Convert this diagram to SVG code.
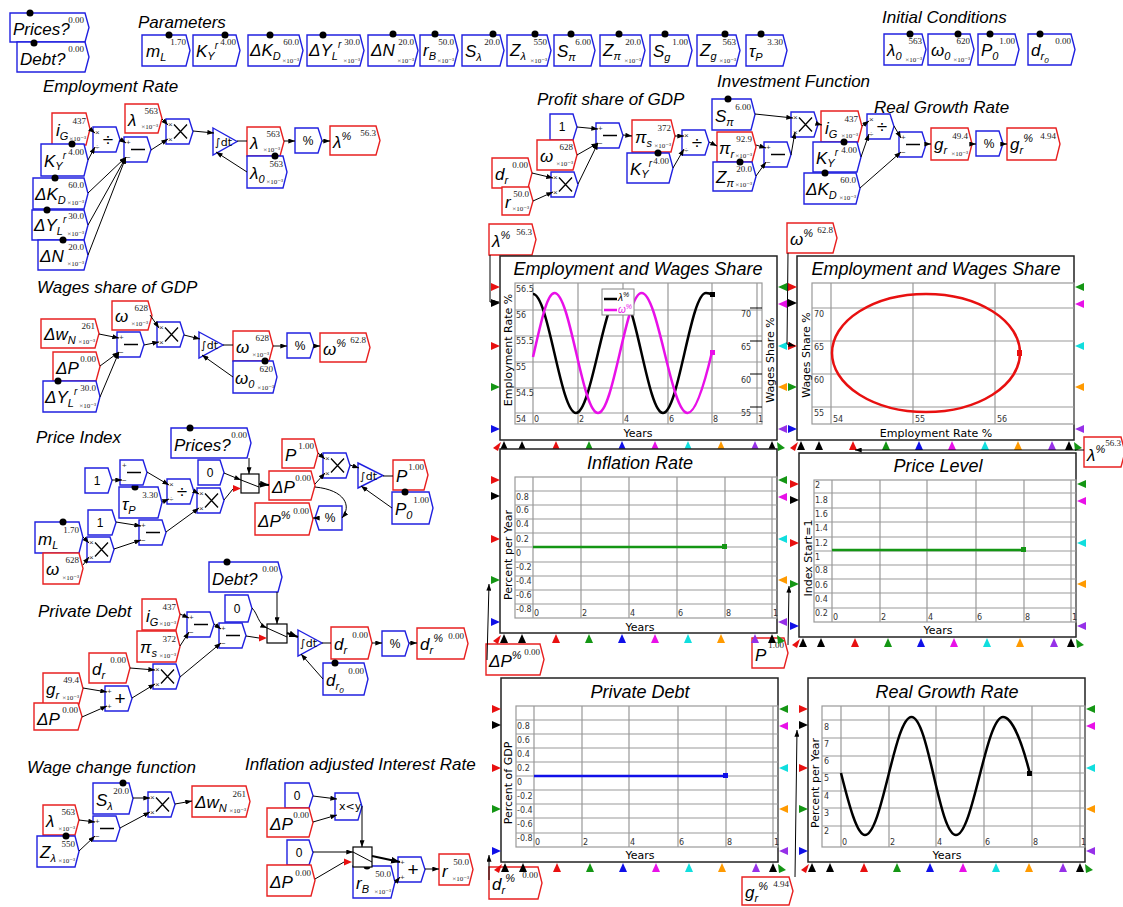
<svg xmlns="http://www.w3.org/2000/svg" width="1123" height="907" viewBox="0 0 1123 907">
<style>
.b{fill:#fff;stroke:#2020e0;stroke-width:1.4}
.r{fill:#fff;stroke:#e82020;stroke-width:1.4}
.nm{font-family:"Liberation Sans",Arial,sans-serif;font-style:italic;font-size:17px;fill:#000}
.sb{font-size:11px}
.sp{font-size:11px}
.sr{font-size:10px}
.vl{font-family:"Liberation Serif",serif;font-size:9px;fill:#222;text-anchor:end}
.ex{font-family:"Liberation Serif","DejaVu Serif",serif;font-size:7px;fill:#222;text-anchor:end}
.hd{font-family:"Liberation Sans",Arial,sans-serif;font-style:italic;font-size:17px}
.op{font-family:"Liberation Sans",Arial,sans-serif;font-size:19px;text-anchor:middle}
.pl{font-family:"Liberation Sans",Arial,sans-serif;font-size:8px;fill:#333}
.cn{font-family:"Liberation Sans",Arial,sans-serif;font-size:12px;text-anchor:middle}
.w{stroke:#000;stroke-width:1;fill:none;marker-end:url(#a)}
.wt{stroke:#000;stroke-width:2;fill:none;marker-end:url(#a2)}
.ln{stroke:#000;stroke-width:1;fill:none}
.sw{fill:#fff;stroke:#000;stroke-width:1.2}
.gr{stroke:#999;stroke-width:1.2;fill:none}
.fr{fill:#fff;stroke:#222;stroke-width:1.5}
.pt{font-family:"Liberation Sans",Arial,sans-serif;font-style:italic;font-size:18px;text-anchor:middle}
.ax{font-family:"DejaVu Sans",sans-serif;font-size:11px;text-anchor:middle}
.tk{font-family:"DejaVu Sans",sans-serif;font-size:8px;fill:#333}
.it{font-family:"DejaVu Sans",sans-serif;font-size:11px}
</style>
<defs>
<marker id="a" viewBox="0 0 8 6" refX="8" refY="3" markerWidth="7" markerHeight="5" orient="auto" markerUnits="userSpaceOnUse"><path d="M0,0L8,3L0,6z"/></marker>
<marker id="a2" viewBox="0 0 8 6" refX="8" refY="3" markerWidth="9" markerHeight="7" orient="auto" markerUnits="userSpaceOnUse"><path d="M0,0L8,3L0,6z"/></marker>
<polygon id="box" class="b" points="0,0 23,0 27,12.5 23,25 0,25"/>
<g id="sub"><use href="#box"/><path d="M7,12.5H21" stroke="#000" stroke-width="1.5"/><text class="pl" x="2" y="8">+</text><text class="pl" x="2" y="23">−</text></g>
<g id="mul"><use href="#box"/><path d="M8,5.5L21,19.5M21,5.5L8,19.5" stroke="#000" stroke-width="1.3"/><text class="pl" x="2" y="8">×</text><text class="pl" x="2" y="23">×</text></g>
<g id="div"><use href="#box"/><text class="op" x="15" y="19">÷</text><text class="pl" x="2" y="8">×</text><text class="pl" x="2" y="23">÷</text></g>
<g id="add"><use href="#box"/><text class="op" x="15" y="19">+</text><text class="pl" x="2" y="8">+</text><text class="pl" x="2" y="23">+</text></g>
<g id="pct"><use href="#box"/><text class="cn" x="13" y="17">%</text></g>
<g id="ports">
<polygon fill="#e81010" points="-9,27 0,31 -9,35"/>
<polygon fill="#000" points="-9,43 0,47 -9,51"/>
<polygon fill="#e81010" points="-9,86 0,90 -9,94"/>
<polygon fill="#149614" points="-9,127 0,131 -9,135"/>
<polygon fill="#1010e8" points="-9,169 0,173 -9,177"/>
<polygon fill="#149614" points="287,27 278,31 287,35"/>
<polygon fill="#e810e8" points="287,44 278,48 287,52"/>
<polygon fill="#10dede" points="287,86 278,90 287,94"/>
<polygon fill="#ff9a00" points="287,127 278,131 287,135"/>
<polygon fill="#9630e8" points="287,169 278,173 287,177"/>
<polygon fill="#e81010" points="-7,192 1,186 -2,195"/>
<polygon fill="#000" points="0,194 4,185 8,194"/>
<polygon fill="#000" points="18,194 22,185 26,194"/>
<polygon fill="#e81010" points="52,194 56,185 60,194"/>
<polygon fill="#149614" points="85,194 89,185 93,194"/>
<polygon fill="#1010e8" points="118,194 122,185 126,194"/>
<polygon fill="#e810e8" points="151,194 155,185 159,194"/>
<polygon fill="#10dede" points="184,194 188,185 192,194"/>
<polygon fill="#ff9a00" points="217,194 221,185 225,194"/>
<polygon fill="#9630e8" points="251,194 255,185 259,194"/>
<polygon fill="#000" points="268,194 272,185 276,194"/>
<polygon fill="#149614" points="277,186 285,192 278,195"/>
</g>
</defs>
<rect width="1123" height="907" fill="#fff"/>

<g id="headers">
<text class="hd" x="138" y="28">Parameters</text>
<text class="hd" x="882" y="23">Initial Conditions</text>
<text class="hd" x="43" y="92">Employment Rate</text>
<text class="hd" x="537" y="105">Profit share of GDP</text>
<text class="hd" x="717" y="87">Investment Function</text>
<text class="hd" x="874" y="113">Real Growth Rate</text>
<text class="hd" x="37" y="293">Wages share of GDP</text>
<text class="hd" x="36" y="443">Price Index</text>
<text class="hd" x="38" y="617">Private Debt</text>
<text class="hd" x="27" y="773">Wage change function</text>
<text class="hd" x="245" y="770">Inflation adjusted Interest Rate</text>
</g>

<g id="Prices_1"><polygon class="b" points="10,13 85,13 89,27.5 85,42 10,42"/><text class="nm" x="13" y="35">Prices?</text><text class="vl" x="84" y="23">0.00</text><circle cx="30" cy="13" r="3.5"/></g>
<g id="Debt_1"><polygon class="b" points="17,42 85,42 89,57 85,72 17,72"/><text class="nm" x="20" y="65">Debt?</text><text class="vl" x="84" y="52">0.00</text><circle cx="34" cy="43" r="3.5"/></g>

<g id="mL_p"><polygon class="b" points="142,35 186,35 190,50.5 186,66 142,66"/><text class="nm" x="146" y="57">m<tspan class="sb" dy="4">L</tspan></text><text class="vl" x="186" y="45">1.70</text><circle cx="169" cy="35" r="3.5"/></g>
<g id="KY_p"><polygon class="b" points="193,35 236,35 240,50.5 236,66 193,66"/><text class="nm" x="196" y="57">K<tspan class="sb" dy="3">Y</tspan><tspan class="sr" dy="-11">r</tspan></text><text class="vl" x="236" y="45">4.00</text><circle cx="225" cy="35" r="3.5"/></g>
<g id="dKD_p"><polygon class="b" points="248,35 299,35 303,50.5 299,66 248,66"/><text class="nm" x="250" y="56">ΔK<tspan class="sb" dy="4">D</tspan></text><text class="vl" x="299" y="45">60.0</text><text class="ex" x="299" y="63">×10⁻³</text><circle cx="270" cy="35" r="3.5"/></g>
<g id="dYL_p"><polygon class="b" points="307,35 360,35 364,50.5 360,66 307,66"/><text class="nm" x="309" y="56">ΔY<tspan class="sb" dy="4">L</tspan><tspan class="sr" dy="-12">r</tspan></text><text class="vl" x="360" y="45">30.0</text><text class="ex" x="360" y="63">×10⁻³</text><circle cx="323" cy="35" r="3.5"/></g>
<g id="dN_p"><polygon class="b" points="368,35 414,35 418,50.5 414,66 368,66"/><text class="nm" x="371" y="56">ΔN</text><text class="vl" x="414" y="45">20.0</text><text class="ex" x="414" y="63">×10⁻³</text><circle cx="393" cy="34" r="3.5"/></g>
<g id="rB_p"><polygon class="b" points="420,35 454,35 458,50.5 454,66 420,66"/><text class="nm" x="423" y="56">r<tspan class="sb" dy="4">B</tspan></text><text class="vl" x="454" y="45">50.0</text><text class="ex" x="454" y="63">×10⁻³</text><circle cx="435" cy="34" r="3.5"/></g>
<g id="Slam_p"><polygon class="b" points="462,35 500,35 504,50.5 500,66 462,66"/><text class="nm" x="465" y="57">S<tspan class="sb" dy="4">λ</tspan></text><text class="vl" x="500" y="45">20.0</text><circle cx="493" cy="34" r="3.5"/></g>
<g id="Zlam_p"><polygon class="b" points="507,35 547,35 551,50.5 547,66 507,66"/><text class="nm" x="510" y="56">Z<tspan class="sb" dy="4">λ</tspan></text><text class="vl" x="547" y="45">550</text><text class="ex" x="547" y="63">×10⁻³</text><circle cx="535" cy="34" r="3.5"/></g>
<g id="Spi_p"><polygon class="b" points="554,35 591,35 595,50.5 591,66 554,66"/><text class="nm" x="557" y="57">S<tspan class="sb" dy="4">π</tspan></text><text class="vl" x="591" y="45">6.00</text><circle cx="571" cy="34" r="3.5"/></g>
<g id="Zpi_p"><polygon class="b" points="600,35 641,35 645,50.5 641,66 600,66"/><text class="nm" x="603" y="56">Z<tspan class="sb" dy="4">π</tspan></text><text class="vl" x="641" y="45">20.0</text><text class="ex" x="641" y="63">×10⁻³</text><circle cx="619" cy="34" r="3.5"/></g>
<g id="Sg_p"><polygon class="b" points="650,35 688,35 692,50.5 688,66 650,66"/><text class="nm" x="653" y="57">S<tspan class="sb" dy="4">g</tspan></text><text class="vl" x="688" y="45">1.00</text><circle cx="665" cy="34" r="3.5"/></g>
<g id="Zg_p"><polygon class="b" points="697,35 736,35 740,50.5 736,66 697,66"/><text class="nm" x="700" y="56">Z<tspan class="sb" dy="4">g</tspan></text><text class="vl" x="736" y="45">563</text><text class="ex" x="736" y="63">×10⁻³</text><circle cx="725" cy="34" r="3.5"/></g>
<g id="tauP_p"><polygon class="b" points="746,35 783,35 787,50.5 783,66 746,66"/><text class="nm" x="749" y="57">τ<tspan class="sb" dy="4">P</tspan></text><text class="vl" x="783" y="45">3.30</text><circle cx="761" cy="34" r="3.5"/></g>

<g id="lam0_p"><polygon class="b" points="884,34 922,34 926,49.5 922,65 884,65"/><text class="nm" x="887" y="56">λ<tspan class="sb" dy="4">0</tspan></text><text class="vl" x="922" y="44">563</text><text class="ex" x="922" y="62">×10⁻³</text><circle cx="910" cy="34" r="3.5"/></g>
<g id="om0_p"><polygon class="b" points="928,34 970,34 974,49.5 970,65 928,65"/><text class="nm" x="931" y="56">ω<tspan class="sb" dy="4">0</tspan></text><text class="vl" x="970" y="44">620</text><text class="ex" x="970" y="62">×10⁻³</text><circle cx="958" cy="34" r="3.5"/></g>
<g id="P0_p"><polygon class="b" points="978,34 1015,34 1019,49.5 1015,65 978,65"/><text class="nm" x="981" y="56">P<tspan class="sb" dy="4">0</tspan></text><text class="vl" x="1015" y="44">1.00</text><circle cx="990" cy="34" r="3.5"/></g>
<g id="dr0_p"><polygon class="b" points="1028,34 1071,34 1075,49.5 1071,65 1028,65"/><text class="nm" x="1031" y="56">d<tspan class="sb" dy="4">r</tspan><tspan font-size="8px" dy="3">0</tspan></text><text class="vl" x="1071" y="44">0.00</text><circle cx="1040" cy="34" r="3.5"/></g>

<g id="iG_1"><polygon class="r" points="52,113 86,113 90,129 86,145 52,145"/><text class="nm" x="56" y="136">i<tspan class="sb" dy="4">G</tspan></text><text class="vl" x="86" y="124">437</text><text class="ex" x="86" y="141">×10⁻³</text></g>
<g id="KY_1"><polygon class="b" points="41,144 84,144 88,160 84,176 41,176"/><text class="nm" x="44" y="167">K<tspan class="sb" dy="3">Y</tspan><tspan class="sr" dy="-11">r</tspan></text><text class="vl" x="84" y="155">4.00</text><circle cx="72" cy="144" r="3.5"/></g>
<g id="dKD_1"><polygon class="b" points="33,178 84,178 88,193.5 84,209 33,209"/><text class="nm" x="35" y="200">ΔK<tspan class="sb" dy="4">D</tspan></text><text class="vl" x="84" y="188">60.0</text><text class="ex" x="84" y="205">×10⁻³</text><circle cx="55" cy="178" r="3.5"/></g>
<g id="dYL_1"><polygon class="b" points="32,210 84,210 88,225 84,240 32,240"/><text class="nm" x="34" y="231">ΔY<tspan class="sb" dy="4">L</tspan><tspan class="sr" dy="-12">r</tspan></text><text class="vl" x="84" y="219">30.0</text><text class="ex" x="84" y="236">×10⁻³</text><circle cx="47" cy="210" r="3.5"/></g>
<g id="dN_1"><polygon class="b" points="38,240 84,240 88,255 84,270 38,270"/><text class="nm" x="40" y="262">ΔN</text><text class="vl" x="84" y="250">20.0</text><text class="ex" x="84" y="266">×10⁻³</text><circle cx="63" cy="240" r="3.5"/></g>
<g id="lam_1"><polygon class="r" points="125,104 158,104 162,118.5 158,133 125,133"/><text class="nm" x="128" y="126">λ</text><text class="vl" x="158" y="114">563</text><text class="ex" x="158" y="129">×10⁻³</text></g>
<g id="lam_2"><polygon class="r" points="247,127 280,127 284,141.5 280,156 247,156"/><text class="nm" x="250" y="149">λ</text><text class="vl" x="280" y="137">563</text><text class="ex" x="280" y="152">×10⁻³</text></g>
<g id="lam0_1"><polygon class="b" points="247,156 283,156 287,172 283,188 247,188"/><text class="nm" x="250" y="179">λ<tspan class="sb" dy="4">0</tspan></text><text class="vl" x="283" y="167">563</text><text class="ex" x="283" y="184">×10⁻³</text><circle cx="275" cy="156" r="3.5"/></g>
<g id="lamP_1"><polygon class="r" points="330,126 376,126 380,140.5 376,155 330,155"/><text class="nm" x="333" y="148">λ<tspan class="sp" dy="-8">%</tspan></text><text class="vl" x="376" y="136">56.3</text></g>
<g id="div1"><use href="#div" x="93" y="127"/></g>
<g id="sub1"><use href="#sub" x="124" y="137"/></g>
<g id="mul1"><use href="#mul" x="166" y="119"/></g>
<g id="int1"><polygon class="b" points="213,128 237,141.5 213,155"/><text class="it" x="215" y="146">∫dt</text></g>
<g id="pct1"><use href="#pct" x="295" y="128"/></g>

<g id="one_1"><polygon class="b" points="550,114 573,114 577,127 573,140 550,140"/><text class="cn" x="562" y="131">1</text></g>
<g id="om_1"><polygon class="r" points="537,140 573,140 577,155 573,170 537,170"/><text class="nm" x="540" y="162">ω</text><text class="vl" x="573" y="150">628</text><text class="ex" x="573" y="166">×10⁻³</text></g>
<g id="dr_1"><polygon class="r" points="492,158 528,158 532,173 528,188 492,188"/><text class="nm" x="495" y="180">d<tspan class="sb" dy="4">r</tspan></text><text class="vl" x="528" y="168">0.00</text></g>
<g id="r_1"><polygon class="r" points="502,187 529,187 533,201 529,215 502,215"/><text class="nm" x="505" y="208">r</text><text class="vl" x="529" y="197">50.0</text><text class="ex" x="529" y="211">×10⁻³</text></g>
<g id="pis_1"><polygon class="r" points="632,120 671,120 675,136 671,152 632,152"/><text class="nm" x="635" y="143">π<tspan class="sb" dy="4">s</tspan></text><text class="vl" x="671" y="131">372</text><text class="ex" x="671" y="148">×10⁻³</text></g>
<g id="KY_2"><polygon class="b" points="627,153 669,153 673,168 669,183 627,183"/><text class="nm" x="630" y="175">K<tspan class="sb" dy="3">Y</tspan><tspan class="sr" dy="-11">r</tspan></text><text class="vl" x="669" y="164">4.00</text><circle cx="658" cy="153" r="3.5"/></g>
<g id="Spi_1"><polygon class="b" points="712,99 751,99 755,114.5 751,130 712,130"/><text class="nm" x="715" y="122">S<tspan class="sb" dy="4">π</tspan></text><text class="vl" x="751" y="110">6.00</text><circle cx="728" cy="99" r="3.5"/></g>
<g id="pir_1"><polygon class="r" points="717,132 752,132 756,147 752,162 717,162"/><text class="nm" x="719" y="154">π<tspan class="sb" dy="4">r</tspan></text><text class="vl" x="752" y="142">92.9</text><text class="ex" x="752" y="158">×10⁻³</text></g>
<g id="Zpi_1"><polygon class="b" points="713,162 752,162 756,176.5 752,191 713,191"/><text class="nm" x="716" y="183">Z<tspan class="sb" dy="4">π</tspan></text><text class="vl" x="752" y="172">20.0</text><text class="ex" x="752" y="187">×10⁻³</text><circle cx="740" cy="162" r="3.5"/></g>
<g id="iG_2"><polygon class="r" points="821,111 858,111 862,126.5 858,142 821,142"/><text class="nm" x="825" y="134">i<tspan class="sb" dy="4">G</tspan></text><text class="vl" x="858" y="122">437</text><text class="ex" x="858" y="138">×10⁻³</text></g>
<g id="KY_3"><polygon class="b" points="813,142 857,142 861,157 857,172 813,172"/><text class="nm" x="816" y="164">K<tspan class="sb" dy="3">Y</tspan><tspan class="sr" dy="-11">r</tspan></text><text class="vl" x="857" y="153">4.00</text><circle cx="844" cy="142" r="3.5"/></g>
<g id="dKD_2"><polygon class="b" points="804,173 856,173 860,188.5 856,204 804,204"/><text class="nm" x="806" y="195">ΔK<tspan class="sb" dy="4">D</tspan></text><text class="vl" x="856" y="183">60.0</text><text class="ex" x="856" y="200">×10⁻³</text><circle cx="825" cy="173" r="3.5"/></g>
<g id="gr_1"><polygon class="r" points="931,128 968,128 972,144 968,160 931,160"/><text class="nm" x="934" y="150">g<tspan class="sb" dy="4">r</tspan></text><text class="vl" x="968" y="139">49.4</text><text class="ex" x="968" y="156">×10⁻³</text></g>
<g id="grP_1"><polygon class="r" points="1007,128 1056,128 1060,144 1056,160 1007,160"/><text class="nm" x="1010" y="150">g<tspan class="sb" dy="4">r</tspan><tspan class="sp" dy="-12">%</tspan></text><text class="vl" x="1056" y="139">4.94</text></g>
<g id="sub2"><use href="#sub" x="596" y="123"/></g>
<g id="mul2"><use href="#mul" x="551" y="172"/></g>
<g id="div2"><use href="#div" x="682" y="130"/></g>
<g id="sub3"><use href="#sub" x="764" y="142"/></g>
<g id="mul3"><use href="#mul" x="791" y="112"/></g>
<g id="div3"><use href="#div" x="867" y="114"/></g>
<g id="sub4"><use href="#sub" x="899" y="132"/></g>
<g id="pct2"><use href="#pct" x="976" y="131"/></g>

<g id="om_2"><polygon class="r" points="112,301 148,301 152,315.5 148,330 112,330"/><text class="nm" x="115" y="322">ω</text><text class="vl" x="148" y="311">628</text><text class="ex" x="148" y="326">×10⁻³</text></g>
<g id="dwN_1"><polygon class="r" points="41,319 95,319 99,333.5 95,348 41,348"/><text class="nm" x="44" y="340">Δw<tspan class="sb" dy="4">N</tspan></text><text class="vl" x="95" y="329">261</text><text class="ex" x="95" y="344">×10⁻³</text></g>
<g id="dP_1"><polygon class="r" points="53,352 96,352 100,366.5 96,381 53,381"/><text class="nm" x="56" y="374">ΔP</text><text class="vl" x="96" y="362">0.00</text></g>
<g id="dYL_2"><polygon class="b" points="43,381 96,381 100,396.5 96,412 43,412"/><text class="nm" x="45" y="403">ΔY<tspan class="sb" dy="4">L</tspan><tspan class="sr" dy="-12">r</tspan></text><text class="vl" x="96" y="391">30.0</text><text class="ex" x="96" y="408">×10⁻³</text><circle cx="58" cy="381" r="3.5"/></g>
<g id="om_3"><polygon class="r" points="233,331 269,331 273,346 269,361 233,361"/><text class="nm" x="236" y="353">ω</text><text class="vl" x="269" y="341">628</text><text class="ex" x="269" y="357">×10⁻³</text></g>
<g id="om0_1"><polygon class="b" points="233,361 273,361 277,377 273,393 233,393"/><text class="nm" x="235" y="384">ω<tspan class="sb" dy="4">0</tspan></text><text class="vl" x="273" y="372">620</text><text class="ex" x="274" y="390">×10⁻³</text><circle cx="265" cy="361" r="3.5"/></g>
<g id="omP_1"><polygon class="r" points="320,333 366,333 370,347.5 366,362 320,362"/><text class="nm" x="323" y="355">ω<tspan class="sp" dy="-8">%</tspan></text><text class="vl" x="366" y="343">62.8</text></g>
<g id="sub5"><use href="#sub" x="117" y="332"/></g>
<g id="mul4"><use href="#mul" x="157" y="322"/></g>
<g id="int2"><polygon class="b" points="199,332 223,345 199,358"/><text class="it" x="201" y="349">∫dt</text></g>
<g id="pct3"><use href="#pct" x="287" y="333"/></g>

<g id="Prices_2"><polygon class="b" points="171,428 247,428 251,443 247,458 171,458"/><text class="nm" x="174" y="451">Prices?</text><text class="vl" x="247" y="438">0.00</text><circle cx="190" cy="428" r="3.5"/></g>
<g id="one_2"><polygon class="b" points="85,468 108,468 112,480.5 108,493 85,493"/><text class="cn" x="97" y="485">1</text></g>
<g id="tauP_1"><polygon class="b" points="119,487 158,487 162,502.5 158,518 119,518"/><text class="nm" x="122" y="510">τ<tspan class="sb" dy="4">P</tspan></text><text class="vl" x="158" y="498">3.30</text><circle cx="135" cy="487" r="3.5"/></g>
<g id="zero_1"><polygon class="b" points="198,460 220,460 224,472.5 220,485 198,485"/><text class="cn" x="210" y="477">0</text></g>
<g id="one_3"><polygon class="b" points="88,510 112,510 116,522.5 112,535 88,535"/><text class="cn" x="100" y="527">1</text></g>
<g id="mL_1"><polygon class="b" points="35,522 79,522 83,537.5 79,553 35,553"/><text class="nm" x="38" y="545">m<tspan class="sb" dy="4">L</tspan></text><text class="vl" x="79" y="533">1.70</text><circle cx="63" cy="522" r="3.5"/></g>
<g id="om_4"><polygon class="r" points="43,553 79,553 83,568.5 79,584 43,584"/><text class="nm" x="46" y="575">ω</text><text class="vl" x="79" y="563">628</text><text class="ex" x="79" y="580">×10⁻³</text></g>
<g id="P_1"><polygon class="r" points="282,439 314,439 318,453.5 314,468 282,468"/><text class="nm" x="285" y="461">P</text><text class="vl" x="314" y="449">1.00</text></g>
<g id="dP_2"><polygon class="r" points="269,471 311,471 315,485.5 311,500 269,500"/><text class="nm" x="272" y="493">ΔP</text><text class="vl" x="311" y="481">0.00</text></g>
<g id="P_2"><polygon class="r" points="393,460 424,460 428,475 424,490 393,490"/><text class="nm" x="396" y="482">P</text><text class="vl" x="424" y="470">1.00</text></g>
<g id="P0_1"><polygon class="b" points="392,492 429,492 433,508 429,524 392,524"/><text class="nm" x="395" y="515">P<tspan class="sb" dy="4">0</tspan></text><text class="vl" x="429" y="503">1.00</text><circle cx="405" cy="492" r="3.5"/></g>
<g id="dPP_1"><polygon class="r" points="255,503 309,503 313,519 309,535 255,535"/><text class="nm" x="258" y="527">ΔP<tspan class="sp" dy="-8">%</tspan></text><text class="vl" x="309" y="514">0.00</text></g>
<g id="sub6"><use href="#sub" x="120" y="460"/></g>
<g id="div4"><use href="#div" x="167" y="479"/></g>
<g id="mul5"><use href="#mul" x="197" y="488"/></g>
<g id="mul6"><use href="#mul" x="87" y="537"/></g>
<g id="sub7"><use href="#sub" x="139" y="520"/></g>
<g id="mul7"><use href="#mul" x="323" y="453"/></g>
<g id="int3"><polygon class="b" points="358,463 383,475.5 358,488"/><text class="it" x="360" y="480">∫dt</text></g>
<g id="pct4"><polygon class="b" points="319,506 342,506 342,530 319,530 315,518"/><text class="cn" x="330" y="522">%</text></g>
<g id="switch1"><rect class="sw" x="241" y="474" width="18" height="19"/><path class="ln" d="M241,480L259,487"/><polygon fill="#e81010" points="233,485 241,488.5 233,492"/></g>

<g id="Debt_2"><polygon class="b" points="209,562 278,562 282,577 278,592 209,592"/><text class="nm" x="212" y="585">Debt?</text><text class="vl" x="278" y="572">0.00</text><circle cx="227" cy="562" r="3.5"/></g>
<g id="iG_3"><polygon class="r" points="142,599 176,599 180,614.5 176,630 142,630"/><text class="nm" x="146" y="622">i<tspan class="sb" dy="4">G</tspan></text><text class="vl" x="176" y="610">437</text><text class="ex" x="176" y="626">×10⁻³</text></g>
<g id="pis_2"><polygon class="r" points="137,631 176,631 180,646.5 176,662 137,662"/><text class="nm" x="140" y="653">π<tspan class="sb" dy="4">s</tspan></text><text class="vl" x="176" y="642">372</text><text class="ex" x="176" y="658">×10⁻³</text></g>
<g id="zero_2"><polygon class="b" points="225,595 248,595 252,608.5 248,622 225,622"/><text class="cn" x="237" y="613">0</text></g>
<g id="dr_2"><polygon class="r" points="331,627 368,627 372,643 368,659 331,659"/><text class="nm" x="334" y="650">d<tspan class="sb" dy="4">r</tspan></text><text class="vl" x="368" y="638">0.00</text></g>
<g id="drP_1"><polygon class="r" points="417,628 464,628 468,643.5 464,659 417,659"/><text class="nm" x="420" y="650">d<tspan class="sb" dy="4">r</tspan><tspan class="sp" dy="-12">%</tspan></text><text class="vl" x="464" y="639">0.00</text></g>
<g id="dr0_1"><polygon class="b" points="323,663 364,663 368,679 364,695 323,695"/><text class="nm" x="326" y="686">d<tspan class="sb" dy="4">r</tspan><tspan font-size="8px" dy="3">0</tspan></text><text class="vl" x="364" y="674">0.00</text><circle cx="335" cy="663" r="3.5"/></g>
<g id="dr_3"><polygon class="r" points="89,653 126,653 130,668 126,683 89,683"/><text class="nm" x="92" y="675">d<tspan class="sb" dy="4">r</tspan></text><text class="vl" x="126" y="663">0.00</text></g>
<g id="gr_2"><polygon class="r" points="43,673 79,673 83,688.5 79,704 43,704"/><text class="nm" x="46" y="695">g<tspan class="sb" dy="4">r</tspan></text><text class="vl" x="79" y="683">49.4</text><text class="ex" x="79" y="700">×10⁻³</text></g>
<g id="dP_3"><polygon class="r" points="34,703 78,703 82,716.5 78,730 34,730"/><text class="nm" x="37" y="725">ΔP</text><text class="vl" x="78" y="713">0.00</text></g>
<g id="sub8"><use href="#sub" x="187" y="612"/></g>
<g id="sub9"><use href="#sub" x="219" y="623"/></g>
<g id="mul8"><use href="#mul" x="153" y="664"/></g>
<g id="add1"><use href="#add" x="105" y="686"/></g>
<g id="int4"><polygon class="b" points="298,630 322,643 298,656"/><text class="it" x="300" y="647">∫dt</text></g>
<g id="pct5"><use href="#pct" x="382" y="631"/></g>
<g id="switch2"><rect class="sw" x="267" y="624" width="20" height="19"/><path class="ln" d="M267,628L287,637"/><polygon fill="#e81010" points="259,634.5 267,638 259,641.5"/></g>

<g id="Slam_1"><polygon class="b" points="93,783 129,783 133,798.5 129,814 93,814"/><text class="nm" x="96" y="806">S<tspan class="sb" dy="4">λ</tspan></text><text class="vl" x="129" y="794">20.0</text><circle cx="123" cy="783" r="3.5"/></g>
<g id="lam_3"><polygon class="r" points="43,805 75,805 79,820 75,835 43,835"/><text class="nm" x="46" y="827">λ</text><text class="vl" x="75" y="815">563</text><text class="ex" x="75" y="831">×10⁻³</text></g>
<g id="Zlam_1"><polygon class="b" points="37,836 75,836 79,851.5 75,867 37,867"/><text class="nm" x="40" y="858">Z<tspan class="sb" dy="4">λ</tspan></text><text class="vl" x="75" y="847">550</text><text class="ex" x="75" y="863">×10⁻³</text><circle cx="66" cy="836" r="3.5"/></g>
<g id="dwN_2"><polygon class="r" points="192,786 246,786 250,801.5 246,817 192,817"/><text class="nm" x="195" y="808">Δw<tspan class="sb" dy="4">N</tspan></text><text class="vl" x="246" y="797">261</text><text class="ex" x="246" y="813">×10⁻³</text></g>
<g id="sub10"><use href="#sub" x="93" y="816"/></g>
<g id="mul9"><use href="#mul" x="148" y="792"/></g>

<g id="zero_3"><polygon class="b" points="285,783 309,783 313,795.5 309,808 285,808"/><text class="cn" x="297" y="800">0</text></g>
<g id="dP_4"><polygon class="r" points="267,808 309,808 313,822.5 309,837 267,837"/><text class="nm" x="270" y="830">ΔP</text><text class="vl" x="309" y="818">0.00</text></g>
<g id="zero_4"><polygon class="b" points="287,840 309,840 313,852.5 309,865 287,865"/><text class="cn" x="299" y="857">0</text></g>
<g id="dP_5"><polygon class="r" points="267,865 311,865 315,880.5 311,896 267,896"/><text class="nm" x="270" y="888">ΔP</text><text class="vl" x="311" y="876">0.00</text></g>
<g id="rB_1"><polygon class="b" points="353,866 391,866 395,882 391,898 353,898"/><text class="nm" x="356" y="889">r<tspan class="sb" dy="4">B</tspan></text><text class="vl" x="391" y="877">50.0</text><text class="ex" x="391" y="894">×10⁻³</text><circle cx="367" cy="866" r="3.5"/></g>
<g id="r_2"><polygon class="r" points="439,854 469,854 473,869.5 469,885 439,885"/><text class="nm" x="442" y="877">r</text><text class="vl" x="469" y="865">50.0</text><text class="ex" x="469" y="881">×10⁻³</text></g>
<g id="xlt"><polygon class="b" points="335,793 358,793 362,806.5 358,820 335,820"/><text class="it" x="339" y="810">x&lt;y</text></g>
<g id="switch3"><rect class="sw" x="353" y="847" width="19" height="20"/><path class="ln" d="M353,852L372,862"/><polygon fill="#e81010" points="344,858.5 352,862 344,865.5"/></g>
<g id="add2"><use href="#add" x="398" y="857"/></g>

<g id="lamP_2"><polygon class="r" points="489,224 532,224 536,239.5 532,255 489,255"/><text class="nm" x="492" y="247">λ<tspan class="sp" dy="-8">%</tspan></text><text class="vl" x="532" y="235">56.3</text></g>
<g id="omP_2"><polygon class="r" points="787,223 833,223 837,238 833,253 787,253"/><text class="nm" x="790" y="245">ω<tspan class="sp" dy="-8">%</tspan></text><text class="vl" x="833" y="233">62.8</text></g>
<g id="lamP_3"><polygon class="r" points="1084,437 1121,437 1125,452 1121,467 1084,467"/><text class="nm" x="1087" y="461">λ<tspan class="sp" dy="-8">%</tspan></text><text class="vl" x="1121" y="446">56.3</text></g>
<g id="dPP_2"><polygon class="r" points="486,644 540,644 544,659.5 540,675 486,675"/><text class="nm" x="489" y="667">ΔP<tspan class="sp" dy="-8">%</tspan></text><text class="vl" x="540" y="655">0.00</text></g>
<g id="P_3"><polygon class="r" points="752,638 784,638 788,653 784,668 752,668"/><text class="nm" x="755" y="661">P</text><text class="vl" x="784" y="648">1.00</text></g>
<g id="drP_2"><polygon class="r" points="489,867 538,867 542,883 538,899 489,899"/><text class="nm" x="492" y="890">d<tspan class="sb" dy="4">r</tspan><tspan class="sp" dy="-12">%</tspan></text><text class="vl" x="538" y="878">0.00</text></g>
<g id="grP_2"><polygon class="r" points="742,877 789,877 793,891 789,905 742,905"/><text class="nm" x="745" y="898">g<tspan class="sb" dy="4">r</tspan><tspan class="sp" dy="-12">%</tspan></text><text class="vl" x="789" y="887">4.94</text></g>

<g id="plot1">
<rect class="fr" x="500" y="256" width="277" height="184"/>
<text class="pt" x="638" y="275">Employment and Wages Share</text>
<rect class="gr" x="515" y="283" width="247" height="141"/>
<path class="gr" d="M533,283V424M578,283V424M623,283V424M668,283V424M712,283V424M757,283V424M515,310H762M515,336H762M515,362H762M515,388H762M515,413H762"/>
<path d="M750,308H762M750,341H762M750,374H762M750,407H762" stroke="#000" stroke-width="1"/>
<g class="tk"><text x="516" y="292">56.5</text><text x="516" y="318">56</text><text x="516" y="344">55.5</text><text x="516" y="370">55</text><text x="516" y="396">54.5</text><text x="516" y="422">54</text>
<text x="534" y="422">0</text><text x="579" y="422">2</text><text x="624" y="422">4</text><text x="669" y="422">6</text><text x="713" y="422">8</text><text x="758" y="422">1</text>
<text x="741" y="317">70</text><text x="741" y="350">65</text><text x="741" y="383">60</text><text x="741" y="416">55</text></g>
<path d="M533,294C548.6,294 560.4,413 576,413C591.6,413 604.4,293 620,293C635.6,293 647.4,413 663,413C678.6,413 690.4,293 706,293C709,293 711,294 712,295" fill="none" stroke="#000" stroke-width="2.5"/>
<rect x="710" y="292" width="5" height="5" fill="#000"/>
<path d="M533,357C540.5,325 546.7,293 554.5,293C570.3,293 582.2,413 598,413C613.8,413 625.8,293 641.6,293C658.3,293 670.9,413 687.6,413C695.6,413 704,386 712,352" fill="none" stroke="#e810e8" stroke-width="2.5"/>
<rect x="710" y="350" width="5" height="5" fill="#e810e8"/>
<rect x="602" y="289" width="32" height="26" fill="#fff" stroke="#888"/>
<path d="M604,299H617" stroke="#000" stroke-width="2.5"/><text x="618" y="301" font-family="Liberation Sans" font-style="italic" font-size="10">λ<tspan font-size="7" dy="-4">%</tspan></text>
<path d="M604,310H617" stroke="#e810e8" stroke-width="2.5"/><text x="618" y="313" font-family="Liberation Sans" font-style="italic" font-size="10" fill="#e810e8">ω<tspan font-size="7" dy="-4">%</tspan></text>
<text class="ax" transform="translate(512,350) rotate(-90)">Employment Rate %</text>
<text class="ax" transform="translate(774,360) rotate(-90)">Wages Share %</text>
<text class="ax" x="638" y="437">Years</text>
<use href="#ports" transform="translate(500,256)"/>
</g>

<g id="plot2">
<rect class="fr" x="797" y="256" width="277" height="184"/>
<text class="pt" x="936" y="275">Employment and Wages Share</text>
<rect class="gr" x="812" y="283" width="262" height="141"/>
<path class="gr" d="M831,283V424M913,283V424M995,283V424M812,308H1074M812,341H1074M812,374H1074M812,407H1074"/>
<g class="tk"><text x="814" y="317">70</text><text x="814" y="350">65</text><text x="814" y="383">60</text><text x="814" y="416">55</text>
<text x="833" y="422">54</text><text x="915" y="422">55</text><text x="997" y="422">56</text></g>
<ellipse cx="926" cy="353" rx="94" ry="59" fill="none" stroke="#e81010" stroke-width="2.5"/>
<rect x="1017" y="350" width="5" height="6" fill="#e81010"/>
<text class="ax" x="936" y="437">Employment Rate %</text>
<text class="ax" transform="translate(810,355) rotate(-90)">Wages Share %</text>
<use href="#ports" transform="translate(797,256)"/>
</g>

<g id="plot3">
<rect class="fr" x="500" y="449" width="277" height="184"/>
<text class="pt" x="640" y="469">Inflation Rate</text>
<rect class="gr" x="515" y="477" width="262" height="141"/>
<path class="gr" d="M533,477V618M581,477V618M629,477V618M677,477V618M725,477V618M772,477V618M515,491H777M515,505H777M515,519H777M515,533H777M515,547H777M515,562H777M515,576H777M515,590H777M515,604H777"/>
<g class="tk"><text x="516" y="500">0.8</text><text x="516" y="513">0.6</text><text x="516" y="527">0.4</text><text x="516" y="542">0.2</text><text x="516" y="556">0</text><text x="516" y="570">-0.2</text><text x="516" y="584">-0.4</text><text x="516" y="598">-0.6</text><text x="516" y="612">-0.8</text>
<text x="534" y="616">0</text><text x="582" y="616">2</text><text x="630" y="616">4</text><text x="678" y="616">6</text><text x="726" y="616">8</text><text x="773" y="616">1</text></g>
<path d="M533,547H725" stroke="#149614" stroke-width="2.5"/><rect x="722" y="544" width="5" height="5" fill="#149614"/>
<text class="ax" transform="translate(512,555) rotate(-90)">Percent per Year</text>
<text class="ax" x="640" y="631">Years</text>
<use href="#ports" transform="translate(500,449)"/>
</g>

<g id="plot4">
<rect class="fr" x="799" y="453" width="277" height="184"/>
<text class="pt" x="938" y="472">Price Level</text>
<rect class="gr" x="814" y="480" width="262" height="142"/>
<path class="gr" d="M832,480V622M880,480V622M927,480V622M976,480V622M1024,480V622M1071,480V622M814,493H1076M814,508H1076M814,522H1076M814,537H1076M814,551H1076M814,565H1076M814,579H1076M814,593H1076M814,608H1076"/>
<g class="tk"><text x="815" y="488">2</text><text x="815" y="503">1.8</text><text x="815" y="517">1.6</text><text x="815" y="531">1.4</text><text x="815" y="546">1.2</text><text x="815" y="560">1</text><text x="815" y="573">0.8</text><text x="815" y="588">0.6</text><text x="815" y="602">0.4</text><text x="815" y="616">0.2</text>
<text x="833" y="620">0</text><text x="881" y="620">2</text><text x="928" y="620">4</text><text x="977" y="620">6</text><text x="1025" y="620">8</text><text x="1072" y="620">1</text></g>
<path d="M832,550H1024" stroke="#149614" stroke-width="2.5"/><rect x="1021" y="547" width="5" height="5" fill="#149614"/>
<text class="ax" transform="translate(812,558) rotate(-90)">Index Start=1</text>
<text class="ax" x="938" y="634">Years</text>
<use href="#ports" transform="translate(799,453)"/>
</g>

<g id="plot5">
<rect class="fr" x="501" y="678" width="277" height="184"/>
<text class="pt" x="640" y="698">Private Debt</text>
<rect class="gr" x="516" y="706" width="262" height="141"/>
<path class="gr" d="M534,706V847M582,706V847M629,706V847M678,706V847M726,706V847M773,706V847M516,720H778M516,734H778M516,748H778M516,762H778M516,776H778M516,790H778M516,804H778M516,818H778M516,833H778"/>
<g class="tk"><text x="517" y="729">0.8</text><text x="517" y="743">0.6</text><text x="517" y="757">0.4</text><text x="517" y="771">0.2</text><text x="517" y="785">0</text><text x="517" y="799">-0.2</text><text x="517" y="813">-0.4</text><text x="517" y="827">-0.6</text><text x="517" y="841">-0.8</text>
<text x="535" y="845">0</text><text x="583" y="845">2</text><text x="630" y="845">4</text><text x="679" y="845">6</text><text x="727" y="845">8</text><text x="774" y="845">1</text></g>
<path d="M534,776H726" stroke="#1010e8" stroke-width="2.5"/><rect x="723" y="773" width="5" height="5" fill="#1010e8"/>
<text class="ax" transform="translate(512,783) rotate(-90)">Percent of GDP</text>
<text class="ax" x="640" y="859">Years</text>
<use href="#ports" transform="translate(501,678)"/>
</g>

<g id="plot6">
<rect class="fr" x="808" y="678" width="277" height="184"/>
<text class="pt" x="947" y="698">Real Growth Rate</text>
<rect class="gr" x="822" y="706" width="263" height="141"/>
<path class="gr" d="M841,706V847M889,706V847M936,706V847M984,706V847M1032,706V847M1080,706V847M822,720H1085M822,738H1085M822,756H1085M822,773H1085M822,791H1085M822,808H1085M822,826H1085"/>
<g class="tk"><text x="824" y="730">8</text><text x="824" y="747">7</text><text x="824" y="764">6</text><text x="824" y="781">5</text><text x="824" y="799">4</text><text x="824" y="816">3</text><text x="824" y="834">2</text>
<text x="842" y="845">0</text><text x="890" y="845">2</text><text x="937" y="845">4</text><text x="985" y="845">6</text><text x="1033" y="845">8</text><text x="1081" y="845">1</text></g>
<path d="M841,773C849,805 857,835 865,835C882,835 894.5,717 911.5,717C928.5,717 939,835 956,835C973,835 986,717 1003,717C1012,717 1022,742 1030,774" fill="none" stroke="#000" stroke-width="2.5"/>
<rect x="1027" y="771" width="5" height="5" fill="#000"/>
<text class="ax" transform="translate(819,783) rotate(-90)">Percent per Year</text>
<text class="ax" x="947" y="859">Years</text>
<use href="#ports" transform="translate(808,678)"/>
</g>

<g id="connectors">
<path class="w" d="M90,129L95,133"/>
<path class="w" d="M88,160L95,147"/>
<path class="w" d="M120,139L126,143"/>
<path class="w" d="M88,193L126,157"/>
<path class="w" d="M88,225L126,157"/>
<path class="w" d="M88,255L126,157"/>
<path class="w" d="M162,119L168,125"/>
<path class="w" d="M151,150L168,139"/>
<path class="w" d="M193,131L214,133"/>
<path class="ln" d="M237,141L247,141"/>
<path class="w" d="M247,172L216,152"/>
<path class="w" d="M284,141L295,141"/>
<path class="w" d="M322,141L330,141"/>

<path class="w" d="M577,127L598,129"/>
<path class="w" d="M577,155L598,143"/>
<path class="w" d="M578,184L598,143"/>
<path class="w" d="M532,173L553,178"/>
<path class="w" d="M533,201L553,192"/>
<path class="w" d="M623,135L632,136"/>
<path class="w" d="M675,136L684,136"/>
<path class="w" d="M673,168L684,149"/>
<path class="w" d="M709,142L717,146"/>
<path class="w" d="M756,145L766,148"/>
<path class="w" d="M756,176L766,162"/>
<path class="w" d="M791,155L795,132"/>
<path class="w" d="M755,114L793,118"/>
<path class="w" d="M818,124L822,125"/>
<path class="w" d="M862,126L869,121"/>
<path class="w" d="M861,157L869,134"/>
<path class="w" d="M894,126L901,138"/>
<path class="w" d="M860,188L901,152"/>
<path class="w" d="M926,144L931,144"/>
<path class="w" d="M972,144L976,144"/>
<path class="w" d="M1003,144L1007,144"/>

<path class="w" d="M99,334L119,338"/>
<path class="w" d="M100,366L119,352"/>
<path class="w" d="M100,397L119,352"/>
<path class="w" d="M150,315L159,328"/>
<path class="w" d="M144,345L159,342"/>
<path class="w" d="M184,335L200,339"/>
<path class="ln" d="M223,345L233,345"/>
<path class="w" d="M233,377L202,355"/>
<path class="w" d="M273,346L287,346"/>
<path class="w" d="M314,346L320,346"/>

<path class="w" d="M112,480L122,480"/>
<path class="w" d="M147,472L169,485"/>
<path class="w" d="M162,502L169,499"/>
<path class="w" d="M194,491L199,494"/>
<path class="w" d="M116,522L141,526"/>
<path class="w" d="M83,537L89,543"/>
<path class="w" d="M83,565L89,557"/>
<path class="w" d="M114,549L141,540"/>
<path class="w" d="M166,532L199,508"/>
<path class="ln" d="M224,500L233,489"/>
<path class="w" d="M224,473L241,480"/>
<path class="wt" d="M259,484L269,485"/>
<path class="w" d="M249,458L249,474"/>
<path class="w" d="M318,453L325,459"/>
<path class="w" d="M315,484L325,473"/>
<path class="w" d="M350,465L359,468"/>
<path class="ln" d="M383,476L393,476"/>
<path class="w" d="M392,508L361,486"/>
<path class="w" d="M315,487C345,490 352,506 342,518"/>
<path class="w" d="M319,518L313,518"/>

<path class="w" d="M180,614L189,618"/>
<path class="w" d="M180,646L189,632"/>
<path class="w" d="M214,624L221,629"/>
<path class="w" d="M180,677L221,643"/>
<path class="w" d="M130,668L155,670"/>
<path class="w" d="M132,698L155,684"/>
<path class="w" d="M83,688L107,692"/>
<path class="w" d="M82,717L107,706"/>
<path class="w" d="M252,608C258,614 258,624 267,628"/>
<path class="ln" d="M246,636L259,638"/>
<path class="w" d="M277,592L277,624"/>
<path class="wt" d="M287,633L298,637"/>
<path class="ln" d="M322,643L331,643"/>
<path class="w" d="M323,679L301,654"/>
<path class="w" d="M372,643L382,643"/>
<path class="w" d="M409,643L417,643"/>

<path class="w" d="M133,798L150,798"/>
<path class="w" d="M79,820L95,822"/>
<path class="w" d="M79,851L95,836"/>
<path class="w" d="M120,828L150,812"/>
<path class="w" d="M175,804L192,801"/>

<path class="w" d="M313,796L337,799"/>
<path class="w" d="M313,822L337,815"/>
<path class="w" d="M362,806L362,847"/>
<path class="w" d="M313,852L353,852"/>
<path class="ln" d="M315,879L344,862"/>
<path class="wt" d="M372,856L400,862"/>
<path class="w" d="M395,883L400,877"/>
<path class="w" d="M425,869L439,869"/>

<path class="w" d="M490,255V302H499"/>
<path class="w" d="M788,253L787,344L795,346"/>
<path class="w" d="M1084,450H855"/>
<path class="w" d="M487,660L489,584"/>
<path class="w" d="M788,645L789,586"/>
<path class="w" d="M489,880L489,855"/>
<path class="w" d="M795,877L797,730"/>
</g>
</svg>
